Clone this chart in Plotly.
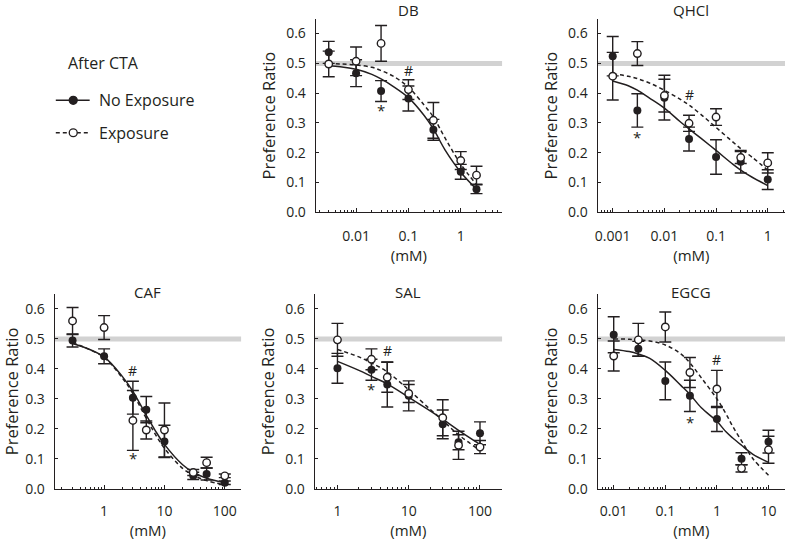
import math
import plotly.graph_objects as go

FONT = "Open Sans"
INK = "#231f20"
W, H = 785, 540

# ---------------- data ----------------
panel_names = ["DB", "QHCl", "CAF", "SAL", "EGCG"]

db_conc = [0.003, 0.01, 0.03, 0.1, 0.3, 1, 2]
db_noexp = [0.537, 0.467, 0.407, 0.382, 0.277, 0.136, 0.078]
db_noexp_err = [0.037, 0.045, 0.035, 0.042, 0.035, 0.025, 0.015]
db_exp = [0.498, 0.507, 0.567, 0.412, 0.309, 0.174, 0.125]
db_exp_err = [0.043, 0.048, 0.06, 0.033, 0.06, 0.03, 0.03]
db_fit_x = [0.003, 0.005, 0.01, 0.02, 0.03, 0.05, 0.1, 0.2, 0.3, 0.5, 1, 2]
db_fit_noexp = [0.492, 0.489, 0.480, 0.463, 0.448, 0.424, 0.385, 0.325, 0.28, 0.21, 0.135, 0.078]
db_fit_exp = [0.499, 0.498, 0.495, 0.487, 0.476, 0.458, 0.42, 0.36, 0.32, 0.25, 0.162, 0.093]

qhcl_conc = [0.001, 0.003, 0.01, 0.03, 0.1, 0.3, 1]
qhcl_noexp = [0.524, 0.342, 0.385, 0.246, 0.186, 0.17, 0.11]
qhcl_noexp_err = [0.066, 0.056, 0.075, 0.04, 0.058, 0.038, 0.033]
qhcl_exp = [0.457, 0.533, 0.392, 0.299, 0.32, 0.184, 0.166]
qhcl_exp_err = [0.08, 0.04, 0.055, 0.027, 0.028, 0.02, 0.034]
qhcl_fit_x = [0.001, 0.002, 0.003, 0.005, 0.01, 0.02, 0.03, 0.05, 0.1, 0.2, 0.3, 0.5, 1]
qhcl_fit_noexp = [0.441, 0.425, 0.41, 0.385, 0.35, 0.305, 0.28, 0.25, 0.208, 0.165, 0.142, 0.118, 0.09]
qhcl_fit_exp = [0.465, 0.457, 0.449, 0.435, 0.41, 0.38, 0.36, 0.33, 0.285, 0.24, 0.214, 0.185, 0.142]

caf_conc = [0.3, 1, 3, 5, 10, 30, 50, 100]
caf_noexp = [0.495, 0.442, 0.304, 0.264, 0.158, 0.043, 0.049, 0.02]
caf_noexp_err = [0.022, 0.025, 0.055, 0.044, 0.054, 0.012, 0.02, 0.006]
caf_exp = [0.56, 0.538, 0.228, 0.196, 0.196, 0.054, 0.087, 0.043]
caf_exp_err = [0.045, 0.04, 0.1, 0.03, 0.09, 0.01, 0.018, 0.006]
caf_fit_x = [0.3, 0.5, 1, 2, 3, 5, 7, 10, 20, 30, 50, 100]
caf_fit_noexp = [0.485, 0.47, 0.44, 0.375, 0.325, 0.245, 0.195, 0.148, 0.08, 0.055, 0.035, 0.02]
caf_fit_exp = [0.487, 0.47, 0.438, 0.37, 0.318, 0.235, 0.183, 0.135, 0.068, 0.045, 0.027, 0.013]

sal_conc = [1, 3, 5, 10, 30, 50, 100]
sal_noexp = [0.402, 0.397, 0.348, 0.31, 0.215, 0.155, 0.185]
sal_noexp_err = [0.05, 0.035, 0.075, 0.05, 0.048, 0.025, 0.038]
sal_exp = [0.497, 0.432, 0.372, 0.318, 0.237, 0.145, 0.139]
sal_exp_err = [0.055, 0.035, 0.05, 0.03, 0.06, 0.047, 0.022]
sal_fit_x = [1, 2, 3, 5, 10, 20, 30, 50, 100]
sal_fit_noexp = [0.425, 0.395, 0.375, 0.35, 0.305, 0.26, 0.232, 0.195, 0.148]
sal_fit_exp = [0.465, 0.44, 0.42, 0.39, 0.33, 0.265, 0.228, 0.18, 0.128]

egcg_conc = [0.01, 0.03, 0.1, 0.3, 1, 3, 10]
egcg_noexp = [0.514, 0.467, 0.36, 0.31, 0.233, 0.1, 0.157]
egcg_noexp_err = [0.06, 0.025, 0.063, 0.052, 0.042, 0.02, 0.038]
egcg_exp = [0.443, 0.497, 0.54, 0.388, 0.333, 0.068, 0.13]
egcg_exp_err = [0.05, 0.055, 0.05, 0.05, 0.062, 0.012, 0.045]
egcg_fit_x = [0.01, 0.02, 0.03, 0.05, 0.1, 0.2, 0.3, 0.5, 1, 1.5, 2, 3, 5, 10]
egcg_fit_noexp = [0.465, 0.458, 0.45, 0.435, 0.395, 0.345, 0.315, 0.27, 0.225, 0.19, 0.17, 0.145, 0.115, 0.088]
egcg_fit_exp = [0.5, 0.499, 0.497, 0.493, 0.48, 0.45, 0.42, 0.37, 0.3, 0.25, 0.21, 0.16, 0.1, 0.045]

# significance marks (x, y)
star_marks = [(0.03, 0.345), (0.003, 0.252), (3, 0.103), (3, 0.332), (0.3, 0.223)]
hash_marks = [(0.1, 0.475), (0.03, 0.394), (3, 0.395), (5, 0.462), (1, 0.43)]

x_tickvals = [[0.01, 0.1, 1], [0.001, 0.01, 0.1, 1], [1, 10, 100], [1, 10, 100], [0.01, 0.1, 1, 10]]
x_ticktext = [["0.01", "0.1", "1"], ["0.001", "0.01", "0.1", "1"], ["1", "10", "100"],
              ["1", "10", "100"], ["0.01", "0.1", "1", "10"]]
y_tickvals = [0.0, 0.1, 0.2, 0.3, 0.4, 0.5, 0.6]
y_ticktext = ["0.0", "0.1", "0.2", "0.3", "0.4", "0.5", "0.6"]
chance_level = 0.5
legend_title = "After CTA"
legend_labels = ["No Exposure", "Exposure"]
x_title = "(mM)"
y_title = "Preference Ratio"

panels = [
    (db_conc, db_noexp, db_noexp_err, db_exp, db_exp_err, db_fit_x, db_fit_noexp, db_fit_exp),
    (qhcl_conc, qhcl_noexp, qhcl_noexp_err, qhcl_exp, qhcl_exp_err, qhcl_fit_x, qhcl_fit_noexp, qhcl_fit_exp),
    (caf_conc, caf_noexp, caf_noexp_err, caf_exp, caf_exp_err, caf_fit_x, caf_fit_noexp, caf_fit_exp),
    (sal_conc, sal_noexp, sal_noexp_err, sal_exp, sal_exp_err, sal_fit_x, sal_fit_noexp, sal_fit_exp),
    (egcg_conc, egcg_noexp, egcg_noexp_err, egcg_exp, egcg_exp_err, egcg_fit_x, egcg_fit_noexp, egcg_fit_exp),
]

# ---------------- layout geometry (pixels) ----------------
x_px = [(314, 501), (597, 785), (52, 239), (313, 501), (597, 785)]
top_row = (19.0, 216.0)
bot_row = (299.0, 497.0)
y_px = [top_row, top_row, bot_row, bot_row, bot_row]
x_ranges = [(-2.77, 0.79), (-3.29, 0.334), (-0.817, 2.27), (-0.318, 2.31), (-2.31, 1.32)]
title_y_px = [10, 10, 297, 297, 297]
tick_standoff = [11, 11, 9, 9, 9]
xtitle_standoff = [1, 1, 0, 0, 0]


def fx(px):
    return px / W


def fy(py):
    return 1 - py / H


fig = go.Figure()
layout = dict(
    width=W, height=H, margin=dict(l=0, r=0, t=0, b=0, pad=0),
    paper_bgcolor="white", plot_bgcolor="white",
    font=dict(family=FONT, color=INK, size=14),
    showlegend=False,
)
annotations = []
shapes = []

for i, (conc, ne, ne_err, ex, ex_err, fit_x, fit_ne, fit_ex) in enumerate(panels):
    n = "" if i == 0 else str(i + 1)
    xa, ya = "x" + n, "y" + n
    # fits
    fig.add_trace(go.Scatter(x=fit_x, y=fit_ne, mode="lines", line=dict(color=INK, width=1.5, shape="spline"),
                             xaxis=xa, yaxis=ya, hoverinfo="skip"))
    fig.add_trace(go.Scatter(x=fit_x, y=fit_ex, mode="lines",
                             line=dict(color=INK, width=1.5, dash="4px,3px", shape="spline"),
                             xaxis=xa, yaxis=ya, hoverinfo="skip"))
    # data
    fig.add_trace(go.Scatter(x=conc, y=ne, mode="markers",
                             marker=dict(color=INK, size=8, line=dict(width=0)),
                             error_y=dict(type="data", array=ne_err, color=INK, thickness=1.4, width=6),
                             xaxis=xa, yaxis=ya, name=legend_labels[0]))
    fig.add_trace(go.Scatter(x=conc, y=ex, mode="markers",
                             marker=dict(color="white", size=7.5, line=dict(color=INK, width=1.4)),
                             error_y=dict(type="data", array=ex_err, color=INK, thickness=1.4, width=6),
                             xaxis=xa, yaxis=ya, name=legend_labels[1]))

    x0, x1 = x_px[i]
    yt, yb = y_px[i]
    layout["xaxis" + n] = dict(
        type="log", range=list(x_ranges[i]), domain=[fx(x0), fx(x1)], anchor=ya,
        showline=True, linecolor=INK, linewidth=1.3, mirror=False,
        showgrid=False, zeroline=False,
        tickmode="array", tickvals=x_tickvals[i], ticktext=x_ticktext[i],
        ticks="inside", ticklen=4, tickwidth=1, tickcolor=INK,
        minor=dict(ticks="inside", ticklen=2, tickwidth=1, tickcolor=INK, dtick="D1", showgrid=False),
        tickfont=dict(size=14, family=FONT, color=INK), ticklabelstandoff=tick_standoff[i],
        title=dict(text=x_title, font=dict(size=15, family=FONT, color=INK), standoff=xtitle_standoff[i]),
        fixedrange=True,
    )
    layout["yaxis" + n] = dict(
        range=[0, 0.65], domain=[fy(yb), fy(yt)], anchor=xa,
        showline=True, linecolor=INK, linewidth=1.3,
        showgrid=False, zeroline=False,
        tickmode="array", tickvals=y_tickvals, ticktext=y_ticktext,
        ticks="inside", ticklen=3, tickwidth=1, tickcolor=INK,
        tickfont=dict(size=14, family=FONT, color=INK), ticklabelstandoff=6,
        title=dict(text=y_title, font=dict(size=16.5, family=FONT, color=INK), standoff=6),
        fixedrange=True,
    )
    # chance line
    shapes.append(dict(type="line", xref=xa + " domain", yref=ya, x0=0, x1=1, y0=chance_level, y1=chance_level,
                       line=dict(color="#d2d2d2", width=5), layer="below"))
    # panel title
    annotations.append(dict(text=panel_names[i], xref="paper", yref="paper", x=fx((x0 + x1) / 2), y=fy(title_y_px[i]),
                            showarrow=False, font=dict(size=15, family=FONT, color=INK),
                            xanchor="center", yanchor="middle"))
    # significance marks (log axes need log10 positions)
    sx, sy = star_marks[i]
    hx, hy = hash_marks[i]
    annotations.append(dict(text="*", x=math.log10(sx), y=sy, xref=xa, yref=ya, showarrow=False,
                            font=dict(size=15, family=FONT, color=INK), xanchor="center", yanchor="middle"))
    annotations.append(dict(text="#", x=math.log10(hx), y=hy, xref=xa, yref=ya, showarrow=False,
                            font=dict(size=14, family=FONT, color=INK), xanchor="center", yanchor="middle"))

# ---------------- legend (drawn manually) ----------------
annotations.append(dict(text=legend_title, xref="paper", yref="paper", x=fx(63), y=fy(64), showarrow=False,
                        xanchor="left", yanchor="middle", font=dict(size=16, family=FONT, color=INK)))
leg_y = [102, 135]
for k, ly in enumerate(leg_y):
    shapes.append(dict(type="line", xref="paper", yref="paper", x0=fx(53), x1=fx(87), y0=fy(ly), y1=fy(ly),
                       line=dict(color=INK, width=1.5, dash="solid" if k == 0 else "4px,3px")))
    r = 4
    shapes.append(dict(type="circle", xref="paper", yref="paper", x0=fx(70.5 - r), x1=fx(70.5 + r),
                       y0=fy(ly + r), y1=fy(ly - r),
                       fillcolor=INK if k == 0 else "white", line=dict(color=INK, width=1.3)))
    annotations.append(dict(text=legend_labels[k], xref="paper", yref="paper", x=fx(94), y=fy(ly), showarrow=False,
                            xanchor="left", yanchor="middle", font=dict(size=16, family=FONT, color=INK)))

layout["annotations"] = annotations
layout["shapes"] = shapes
fig.update_layout(**layout)
fig.write_html("out.html", config={"displayModeBar": False},
               post_script="document.body.style.margin='0px';document.body.style.overflow='hidden';")
